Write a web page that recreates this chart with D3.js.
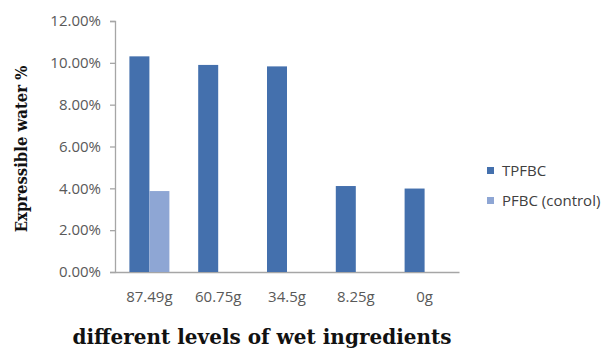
<!DOCTYPE html>
<html>
<head>
<meta charset="utf-8">
<script src="https://cdn.jsdelivr.net/npm/d3@7"></script>
<style>
  html, body { margin: 0; padding: 0; background: #fff; }
  svg { display: block; }
</style>
</head>
<body>
<svg id="chart" width="602" height="348"></svg>
<script>
// Expressible water (%) by level of wet ingredients
const categories = ["87.49g", "60.75g", "34.5g", "8.25g", "0g"];
const seriesNames = ["TPFBC", "PFBC (control)"];
const tpfbc = [10.31, 9.90, 9.83, 4.11, 3.99];
const pfbc = [3.87, null, null, null, null];
const yTicks = [0, 2, 4, 6, 8, 10, 12];
const colors = ["#4470ad", "#8ea6d4"];

const svg = d3.select("#chart");
const plot = { left: 115, right: 459, top: 21, bottom: 272 };
const labelFont = "'Open Sans', 'Liberation Sans', sans-serif";
const labelSize = "15px";
const titleFont = "'DejaVu Serif', serif";

const x0 = d3.scaleBand().domain(categories).range([plot.left, plot.right])
  .paddingInner(0.4186).paddingOuter(0.2093);
const x1 = d3.scaleBand().domain(seriesNames).range([0, x0.bandwidth()]);
const y = d3.scaleLinear().domain([0, 12]).range([plot.bottom, plot.top]);

// y axis
const yAxis = svg.append("g")
  .attr("transform", `translate(${plot.left},0)`)
  .call(d3.axisLeft(y).tickValues(yTicks).tickSize(5).tickPadding(9)
    .tickFormat(d => d.toFixed(2) + "%"));
yAxis.select(".domain").attr("stroke", "#a6a6a6").attr("stroke-width", 1.3);
yAxis.selectAll(".tick line").attr("stroke", "#a6a6a6").attr("stroke-width", 1.3);
yAxis.selectAll(".tick text").attr("fill", "#595959")
  .style("font-family", labelFont).style("font-size", labelSize);

// x axis
const xAxis = svg.append("g")
  .attr("transform", `translate(0,${plot.bottom})`)
  .call(d3.axisBottom(x0).tickSize(0).tickPadding(19).tickSizeOuter(0));
xAxis.select(".domain").attr("stroke", "#a6a6a6").attr("stroke-width", 1.3);
xAxis.selectAll(".tick text").attr("fill", "#595959")
  .style("font-family", labelFont).style("font-size", labelSize);

// bars
const seriesData = [tpfbc, pfbc];
const groups = svg.append("g").selectAll("g")
  .data(categories).join("g")
  .attr("transform", d => `translate(${x0(d)},0)`);
groups.selectAll("rect")
  .data((c, i) => seriesNames.map((s, j) => ({ s, v: seriesData[j][i], j })).filter(d => d.v != null))
  .join("rect")
  .attr("x", d => x1(d.s))
  .attr("width", x1.bandwidth())
  .attr("y", d => y(d.v))
  .attr("height", d => y(0) - y(d.v))
  .attr("fill", d => colors[d.j]);

// legend
const legend = svg.append("g").attr("transform", "translate(487,167)");
seriesNames.forEach((name, i) => {
  const g = legend.append("g").attr("transform", `translate(0,${i * 30})`);
  g.append("rect").attr("width", 7).attr("height", 7).attr("fill", colors[i]);
  g.append("text").attr("x", 15).attr("y", 8.5)
    .attr("fill", "#404040")
    .style("font-family", labelFont).style("font-size", labelSize)
    .text(name);
});

// axis titles
svg.append("text")
  .attr("x", 262).attr("y", 344)
  .attr("text-anchor", "middle")
  .style("font-family", titleFont).style("font-weight", "bold").style("font-size", "20px")
  .attr("fill", "#111")
  .text("different levels of wet ingredients");

svg.append("text")
  .attr("transform", "translate(27,149) rotate(-90)")
  .attr("text-anchor", "middle")
  .style("font-family", "'DejaVu Serif Condensed', 'DejaVu Serif', serif")
  .style("font-weight", "bold").style("font-size", "16.5px")
  .attr("fill", "#111")
  .text("Expressible water %");
</script>
</body>
</html>
